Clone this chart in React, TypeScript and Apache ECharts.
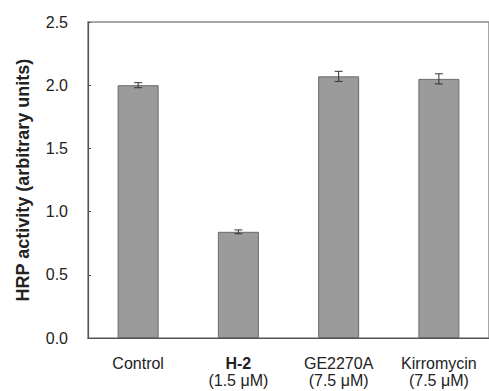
import React, { useEffect, useRef } from "react";
import * as echarts from "echarts";

const categories = ["Control", "H-2", "GE2270A", "Kirromycin"];
const subLabels = ["", "(1.5 μM)", "(7.5 μM)", "(7.5 μM)"];
const values = [2.0, 0.84, 2.07, 2.05];
const errors = [0.02, 0.015, 0.04, 0.04];
const yTicks = [0, 0.5, 1.0, 1.5, 2.0, 2.5];

const FONT = "Liberation Sans, Arial, sans-serif";

export default function App() {
  const ref = useRef<HTMLDivElement>(null);
  useEffect(() => {
    if (!ref.current) return;
    const chart = echarts.init(ref.current, null, { renderer: "svg" });
    const errData = values.map((v, i) => [i, v - errors[i], v + errors[i]]);
    chart.setOption({
      animation: false,
      backgroundColor: "#fff",
      textStyle: { fontFamily: FONT },
      grid: {
        left: 88,
        right: 0,
        top: 22,
        bottom: 53,
        containLabel: false,
        outerBoundsMode: "none",
        show: true,
        borderColor: "#8a8a8a",
        borderWidth: 1.5,
      },
      xAxis: {
        type: "category",
        data: categories,
        axisLine: { lineStyle: { color: "#555", width: 1.2 } },
        axisTick: { show: false },
        axisLabel: {
          margin: 17,
          interval: 0,
          color: "#222",
          fontSize: 16,
          lineHeight: 17,
          formatter: (val: string) => {
            const i = categories.indexOf(val);
            const main = i === 1 ? `{b|${val}}` : `{n|${val}}`;
            return subLabels[i] ? `${main}\n{n|${subLabels[i]}}` : main;
          },
          rich: {
            n: { fontSize: 16, color: "#222", lineHeight: 17, fontFamily: FONT },
            b: { fontSize: 16, color: "#222", lineHeight: 17, fontWeight: "bold", fontFamily: FONT },
          },
        },
      },
      yAxis: {
        type: "value",
        min: yTicks[0],
        max: yTicks[yTicks.length - 1],
        interval: 0.5,
        name: "HRP activity (arbitrary units)",
        nameLocation: "middle",
        nameGap: 56,
        nameTextStyle: { fontSize: 18, fontWeight: "bold", color: "#222", fontFamily: FONT },
        axisLine: { show: true, lineStyle: { color: "#555", width: 1.2 } },
        axisTick: { show: true, inside: true, length: 3, lineStyle: { color: "#555" } },
        splitLine: { show: false },
        axisLabel: {
          margin: 20,
          color: "#222",
          fontSize: 16,
          formatter: (v: number) => v.toFixed(1),
        },
      },
      series: [
        {
          type: "bar",
          data: values,
          barWidth: 41,
          itemStyle: { color: "#9b9b9b", borderColor: "#6a6a6a", borderWidth: 1 },
        },
        {
          type: "custom",
          data: errData,
          z: 10,
          renderItem: (params: any, api: any) => {
            const x = api.value(0);
            const lo = api.coord([x, api.value(1)]);
            const hi = api.coord([x, api.value(2)]);
            const hw = 4;
            const style = { stroke: "#333", lineWidth: 1 };
            return {
              type: "group",
              children: [
                { type: "line", shape: { x1: lo[0], y1: lo[1], x2: hi[0], y2: hi[1] }, style },
                { type: "line", shape: { x1: hi[0] - hw, y1: hi[1], x2: hi[0] + hw, y2: hi[1] }, style },
                { type: "line", shape: { x1: lo[0] - hw, y1: lo[1], x2: lo[0] + hw, y2: lo[1] }, style },
              ],
            };
          },
        },
      ],
    });
    return () => chart.dispose();
  }, []);
  return (
    <div
      ref={ref}
      style={{ position: "fixed", left: 0, top: 0, width: 489, height: 391 }}
    />
  );
}
